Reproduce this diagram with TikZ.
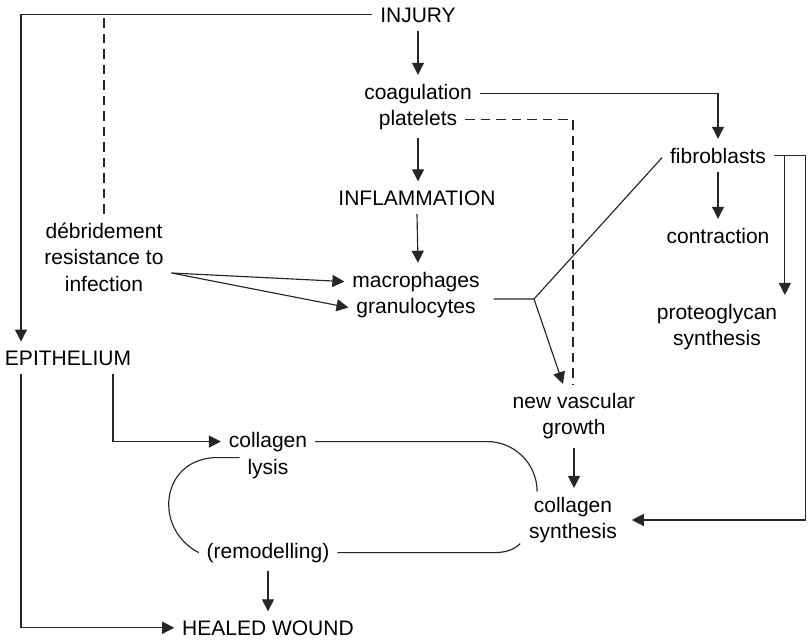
\documentclass[tikz,border=0pt]{standalone}
\usepackage{fontspec}
\setmainfont{Liberation Sans}
\usetikzlibrary{arrows.meta}
\begin{document}
\begin{tikzpicture}[x=1pt,y=-1pt,
  lbl/.style={font=\fontsize{21pt}{26.5pt}\selectfont, inner sep=0pt, outer xsep=8pt, outer ysep=9pt, align=center},
  ln/.style={line width=1.15pt, draw=black!85},
  arr/.style={ln, -{Triangle[length=12pt,width=12pt]}},
  dsh/.style={ln, dash pattern=on 9.5pt off 6pt}]
\useasboundingbox (0,0) rectangle (809,640);
% nodes
\node[lbl, anchor=base] (inj) at (418,22) {INJURY};
\node[lbl, anchor=base] (coag) at (418,99) {coagulation};
\node[lbl, anchor=base] (plat) at (418,125) {platelets};
\node[lbl, anchor=base] (infl) at (417,205) {INFLAMMATION};
\node[lbl, anchor=base] (macro) at (416,287) {macrophages};
\node[lbl, anchor=base] (gran) at (416,313) {granulocytes};
\node[lbl] (deb) at (104,257) {débridement\\resistance to\\infection};
\node[lbl, anchor=base] (epi) at (68,365) {EPITHELIUM};
\node[lbl, anchor=base] (fib) at (718,163) {fibroblasts};
\node[lbl, anchor=base] (contr) at (718,243) {contraction};
\node[lbl] (prot) at (717,327) {proteoglycan\\synthesis};
\node[lbl] (nvasc) at (574,416) {new vascular\\growth};
\node[lbl] (csyn) at (573,520) {collagen\\synthesis};
\node[lbl, anchor=base] (lys1) at (268,447) {collagen};
\node[lbl, anchor=base] (lys2) at (268,474) {lysis};
\node[lbl, anchor=base] (remod) at (268,558) {(remodelling)};
\node[lbl, anchor=base] (healed) at (268,635) {HEALED WOUND};
\coordinate (lx) at (21,0);
\coordinate (ex) at (113,0);
\coordinate (br) at (534,299);
% connectors
\draw[arr] (inj.west) -| (epi.north -| lx);
\draw[dsh] (deb.north) -- (deb.north |- inj.west);
\draw[arr] (inj.south) -- (inj.south |- coag.north);
\draw[arr] (plat.south) -- (plat.south |- infl.north);
\draw[arr] (infl.south) -- ([xshift=2pt]macro.north);
\draw[arr] (coag.east) -| (fib.north);
\draw[dsh] (plat.east) -| ([xshift=-1pt]nvasc.north);
\draw[arr] ([yshift=-16pt]deb.east) -- (macro.west);
\draw[arr] ([yshift=-16pt]deb.east) -- (gran.west);
\draw[ln] ([xshift=10pt,yshift=8.5pt]gran.east) -- (br);
\draw[ln] (br) -- ([yshift=-2pt]fib.west);
\draw[arr] (br) -- ([xshift=-11pt]nvasc.north);
\draw[arr] (fib.south) -- (fib.south |- contr.north);
\draw[arr] ([xshift=11pt]fib.east) -- ([xshift=11pt]fib.east |- prot.north);
\draw[arr] (fib.east) -- ++(32,0) |- ([xshift=7pt]csyn.east);
\draw[arr] (nvasc.south) -- (nvasc.south |- csyn.north);
\draw[arr] (epi.south -| ex) |- (lys1.west);
\draw[arr] (epi.south -| lx) |- (healed.west);
\draw[ln] (lys1.east) -- ++(172,0) arc[start angle=-90, end angle=0, radius=50];
\draw[ln] (remod.east) -- ++(158,0) .. controls +(12,0) and +(-5,5) .. ++(25,-9);
\draw[ln] ([yshift=11pt]lys2.west) -- ++(-25,0) .. controls +(-55,3) and +(-45,-23) .. (remod.west);
\draw[arr] (remod.south) -- (remod.south |- healed.north);
\end{tikzpicture}
\end{document}
